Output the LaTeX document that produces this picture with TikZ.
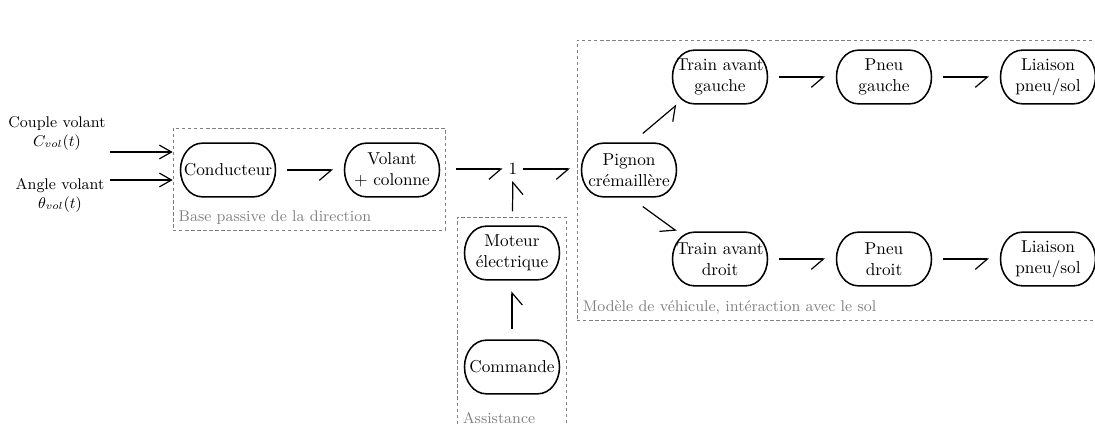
\documentclass[tikz,border=0pt]{standalone}
\usepackage{tikz}
\usetikzlibrary{arrows.meta}
\usetikzlibrary{fit}

\begin{document}
\begin{tikzpicture}[x=0.58pt,y=-0.58pt,
	bloc/.style={minimum width=56pt, minimum height=32pt, inner sep=2pt, align=center,
		path picture={
			\coordinate (ne) at ([shift={(-13pt,-0.45pt)}]path picture bounding box.north east);
			\coordinate (sw) at ([shift={(13pt,0.45pt)}]path picture bounding box.south west);
			\draw[line width=0.9pt] (ne) arc[start angle=90, end angle=-90, x radius=12.55pt, y radius=15.55pt]
				-- (sw) arc[start angle=270, end angle=90, x radius=12.55pt, y radius=15.55pt] -- cycle;}},
	harp/.style={line width=0.7pt, -{Straight Barb[right,length=7pt,width=12pt]}},
	flow/.style={harp, shorten <=6pt, shorten >=6pt},
	entree/.style={line width=0.7pt, -{Straight Barb[length=7pt,width=8pt]}},
	zone/.style={draw=gray, dash pattern=on 2pt off 1.5pt, inner sep=0pt},
	zonelabel/.style={gray, font=\small, anchor=south west}]
	\useasboundingbox (0,0) rectangle (1095,425);
	% zones
	\node[zone, fit={(173,128) (445,230)}] (base) {};
	\node[zonelabel] at (base.south west) {Base passive de la direction};
	\node[zone, fit={(457,217) (566,429)}] (assist) {};
	\node[zonelabel] at (assist.south west) {Assistance};
	\node[zone, fit={(577,40) (1105,320)}] (vehicule) {};
	\node[zonelabel] at (vehicule.south west) {Modèle de véhicule, intéraction avec le sol};
	% entrees
	\node[font=\small, align=center] (couple) at (57,133) {Couple volant\\ $C_{vol}(t)$};
	\node[font=\small, align=center] (angle) at (60,195) {Angle volant\\ $\theta_{vol}(t)$};
	\coordinate (couplein) at (110,152);
	\coordinate (anglein) at (110,180);
	\draw[entree] (couplein) -- (couplein -| base.west);
	\draw[entree] (anglein) -- (anglein -| base.west);
	% blocs
	\node[bloc] (conducteur) at (228,170) {Conducteur};
	\node[bloc] (volant) at (392,170) {Volant\\+ colonne};
	\node (somme) at (513,169) {1};
	\node[bloc] (moteur) at (512,253) {Moteur\\électrique};
	\node[bloc] (commande) at (512,367) {Commande};
	\node[bloc] (pignon) at (629,170) {Pignon\\crémaillère};
	\node[bloc] (traing) at (720,77) {Train avant\\gauche};
	\node[bloc] (pneug) at (884,77) {Pneu\\gauche};
	\node[bloc] (liaisong) at (1048,77) {Liaison\\pneu/sol};
	\node[bloc] (traind) at (720,259) {Train avant\\droit};
	\node[bloc] (pneud) at (884,259) {Pneu\\droit};
	\node[bloc] (liaisond) at (1048,259) {Liaison\\pneu/sol};
	% liens
	\draw[flow] (conducteur) -- (volant);
	\draw[harp, shorten <=9pt] (volant.east |- somme) -- (somme);
	\draw[harp, shorten >=6pt] (somme) -- (somme -| pignon.west);
	\draw[flow] (commande) -- (moteur);
	\draw[harp, shorten <=8pt] (moteur) -- (somme);
	\draw[harp] ([shift={(8pt,5pt)}]pignon.north) -- ([xshift=3pt]traing.south west);
	\draw[harp] ([shift={(8pt,-5pt)}]pignon.south) -- ([xshift=3pt]traind.north west);
	\draw[flow] (traing) -- (pneug);
	\draw[flow] (pneug) -- (liaisong);
	\draw[flow] (traind) -- (pneud);
	\draw[flow] (pneud) -- (liaisond);
\end{tikzpicture}
\end{document}
